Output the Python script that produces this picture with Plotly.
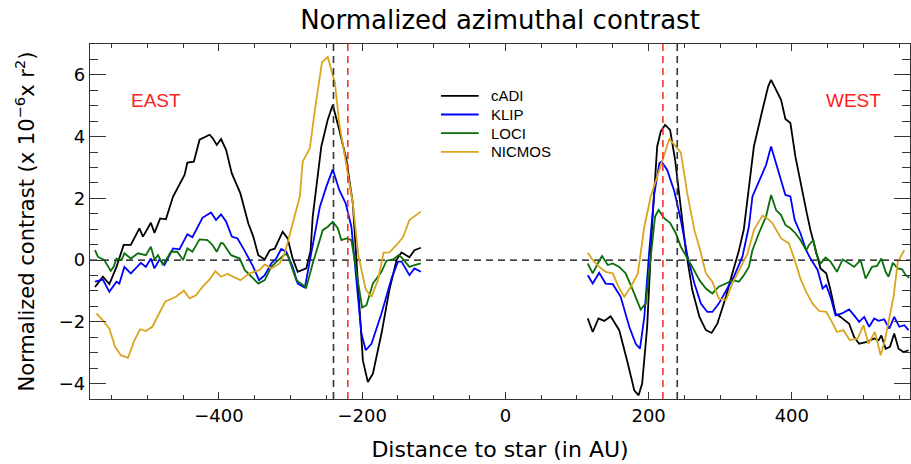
import plotly.graph_objects as go

# ---------------- data ----------------
cadi_x = [-573, -562, -553, -543, -533, -523, -511, -506, -495, -490, -482, -474, -464, -455, -448, -444,
          -435, -427, -420, -413, -409, -403, -397, -390, -382, -370, -359, -352, -345, -336, -329, -322,
          -311, -304, -297, -290, -278, -272, -269, -257, -248, -241, -232, -222, -213, -206, -199, -192,
          -185, -173, -162, -152, -145, -134, -127, -118,
          None,
          115, 122, 130, 138, 147, 159, 171, 180, 186, 191, 198, 205, 212, 217, 223, 230, 237, 245, 252,
          261, 271, 280, 288, 296, 308, 317, 326, 333, 338, 347, 359, 367, 371, 378, 385, 391, 398, 405,
          412, 420, 426, 433, 440, 448, 454, 461, 468, 480, 487, 494, 505, 515, 521, 525, 531, 537, 543,
          549, 556, 563]
cadi_y = [-0.87, -0.54, -0.78, -0.22, 0.49, 0.49, 1.03, 0.76, 1.21, 0.88, 1.35, 1.32, 2.06, 2.43, 2.76, 3.16,
          3.19, 3.90, 3.98, 4.06, 3.96, 3.73, 3.92, 3.57, 2.81, 2.16, 1.19, 0.76, 0.16, 0.02, 0.32, 0.37,
          0.92, 0.70, 0.05, -0.38, -0.27, 0.30, 1.41, 3.68, 4.55, 5.03, 4.22, 3.25, 1.84, -0.76, -3.25, -3.95,
          -3.68, -2.38, -0.97, 0.00, 0.25, 0.09, 0.32, 0.40,
          None,
          -1.89, -2.33, -1.89, -1.97, -1.82, -2.27, -3.35, -4.22, -4.38, -4.00, -2.16, 1.19, 3.68, 4.17, 4.38,
          4.22, 3.25, 1.62, 0.32, -0.97, -1.84, -2.27, -2.36, -2.06, -1.19, -0.43, 0.30, 1.00, 1.90, 3.68,
          4.87, 5.63, 5.84, 5.52, 5.19, 4.57, 4.44, 3.35, 2.49, 1.62, 0.97, 0.38, -0.27, -0.43, -0.97, -1.73,
          -1.84, -2.06, -2.49, -2.71, -2.65, -2.54, -2.60, -2.44, -2.87, -2.81, -2.38, -2.87, -2.98, -2.92]

klip_x = [-573, -562, -553, -543, -539, -532, -523, -509, -502, -495, -490, -483, -476, -464, -455, -444,
          -437, -423, -411, -404, -397, -390, -382, -374, -364, -352, -344, -336, -327, -320, -313, -306,
          -297, -290, -280, -271, -259, -250, -241, -232, -223, -215, -208, -201, -195, -187, -173, -159,
          -150, -145, -134, -127, -118,
          None,
          115, 122, 131, 140, 150, 161, 173, 182, 188, 194, 201, 208, 215, 218, 226, 236, 245, 254, 264,
          273, 282, 289, 298, 310, 319, 331, 340, 345, 357, 364, 371, 378, 385, 391, 398, 404, 412, 420,
          426, 436, 443, 448, 454, 461, 470, 480, 487, 494, 501, 508, 515, 521, 529, 536, 543, 550, 557, 563]
klip_y = [-0.70, -0.63, -1.03, -0.70, -0.76, -0.22, -0.43, -0.09, -0.22, 0.05, -0.27, 0.02, -0.16, 0.38,
          0.35, 0.84, 0.74, 1.37, 1.54, 1.30, 1.48, 1.25, 0.76, 0.70, 0.30, -0.22, -0.65, -0.49, -0.11, 0.05,
          0.36, 0.27, -0.22, -0.76, -0.89, 0.22, 1.73, 2.38, 2.94, 2.27, 1.84, 1.08, -0.54, -2.38, -2.92,
          -2.71, -1.73, -0.60, -0.05, -0.05, -0.49, -0.27, -0.38,
          None,
          -0.49, -0.76, -0.41, -0.76, -0.78, -1.19, -2.16, -2.71, -2.87, -1.84, 0.32, 2.16, 3.14, 3.19, 2.92,
          2.22, 1.30, 0.16, -0.76, -1.41, -1.68, -1.68, -1.41, -0.92, -0.54, 0.11, 1.08, 2.06, 2.71, 3.08,
          3.68, 3.14, 2.60, 2.11, 2.06, 1.30, 0.87, 0.32, 0.05, -0.32, -0.92, -0.81, -1.19, -1.79, -1.73,
          -1.60, -1.79, -2.00, -1.84, -2.16, -1.89, -1.97, -1.92, -2.22, -1.84, -2.16, -2.11, -2.27]

loci_x = [-573, -569, -560, -551, -547, -543, -536, -532, -523, -513, -502, -495, -490, -485, -478, -467,
          -458, -450, -444, -437, -427, -416, -409, -403, -397, -394, -383, -371, -364, -355, -345, -336,
          -327, -317, -308, -304, -292, -278, -269, -255, -248, -241, -234, -229, -222, -215, -208, -200,
          -194, -185, -173, -166, -157, -149, -145, -134, -127, -118,
          None,
          115, 122, 129, 135, 143, 150, 159, 168, 178, 189, 196, 203, 209, 214, 222, 230, 238, 245, 252,
          261, 271, 280, 289, 298, 308, 317, 326, 333, 340, 345, 354, 364, 371, 378, 385, 391, 398, 405,
          412, 420, 424, 430, 434, 440, 447, 454, 463, 471, 480, 487, 496, 503, 512, 519, 525, 531, 535,
          541, 548, 554, 559, 564]
loci_y = [0.32, 0.11, 0.00, -0.35, -0.22, 0.05, 0.00, 0.22, 0.05, 0.22, 0.16, 0.43, 0.02, 0.16, -0.16, 0.27,
          0.27, 0.00, 0.38, 0.27, 0.67, 0.65, 0.49, 0.27, 0.56, 0.54, 0.16, 0.05, -0.32, -0.54, -0.76, -0.65,
          -0.22, 0.00, 0.19, 0.16, -0.65, -0.89, -0.11, 0.97, 1.08, 1.24, 1.03, 0.65, 0.70, 0.65, -0.32, -1.54,
          -1.46, -0.76, -0.38, -0.02, 0.02, 0.16, 0.09, -0.22, -0.16, -0.11,
          None,
          -0.11, -0.43, -0.11, 0.13, -0.16, -0.11, -0.22, -0.43, -0.97, -1.60, -1.41, 0.11, 1.41, 1.62, 1.35,
          1.21, 0.87, 0.43, 0.16, -0.22, -0.65, -0.92, -1.08, -0.86, -0.76, -0.65, -0.70, -0.49, -0.22, 0.32,
          0.87, 1.41, 2.11, 1.62, 1.46, 1.14, 1.03, 0.87, 0.65, 0.32, 0.49, 0.65, 0.22, -0.11, 0.08, -0.05,
          -0.38, 0.02, -0.11, -0.22, 0.00, -0.60, -0.22, -0.19, 0.05, -0.38, -0.54, -0.09, -0.27, -0.30,
          -0.49, -0.57]

nicmos_x = [-571, -562, -553, -545, -537, -527, -518, -510, -502, -493, -475, -460, -449, -441, -432, -423,
            -412, -405, -397, -388, -370, -357, -343, -336, -327, -315, -308, -301, -294, -287, -283, -273,
            -266, -256, -248, -238, -232, -223, -213, -205, -195, -187, -178, -170, -162, -152, -143, -134,
            -118,
            None,
            115, 122, 131, 140, 150, 158, 166, 175, 185, 194, 203, 215, 222, 229, 236, 245, 254, 264, 272,
            280, 289, 298, 308, 317, 326, 338, 347, 359, 366, 373, 385, 396, 404, 412, 420, 429, 438, 448,
            456, 463, 472, 481, 492, 500, 507, 516, 524, 530, 536, 542, 548, 557]
nicmos_y = [-1.73, -1.95, -2.22, -2.81, -3.08, -3.17, -2.60, -2.24, -2.30, -2.16, -1.35, -1.19, -0.99, -1.24,
            -1.14, -0.87, -0.60, -0.36, -0.54, -0.45, -0.65, -0.43, -0.32, -0.14, -0.27, -0.11, 0.22, 0.86,
            1.51, 2.06, 3.19, 3.62, 4.87, 6.41, 6.58, 5.74, 4.44, 3.25, 1.84, 0.11, -0.95, -1.19, -0.65, 0.24,
            0.25, 0.49, 0.74, 1.30, 1.57,
            None,
            0.24, 0.00, -0.22, -0.38, -0.43, -0.87, -1.19, -0.87, -0.43, 1.08, 2.06, 2.92, 3.46, 3.92, 3.74,
            3.48, 2.16, 0.97, 0.32, -0.43, -0.70, -1.24, -1.30, -0.76, -0.35, 0.20, 0.97, 1.44, 1.35, 1.19,
            0.70, 0.54, 0.00, -0.60, -1.03, -1.41, -1.65, -1.68, -2.00, -2.33, -2.27, -2.60, -2.54, -2.11,
            -2.71, -2.33, -3.08, -2.60, -1.89, -1.19, -0.05, 0.32]

series_names = ["cADI", "KLIP", "LOCI", "NICMOS"]
series_colors = ["#000000", "#0000ff", "#0a6e0a", "#daa520"]

ring_black = [-240, 240]   # black dashed verticals
ring_red = [-220, 220]     # red dashed verticals

x_ticks = [-400, -200, 0, 200, 400]
y_ticks = [-4, -2, 0, 2, 4, 6]

# ---------------- figure ----------------
fig = go.Figure()
for name, xs, ys, col in zip(series_names,
                             [cadi_x, klip_x, loci_x, nicmos_x],
                             [cadi_y, klip_y, loci_y, nicmos_y],
                             series_colors):
    fig.add_trace(go.Scatter(x=xs, y=ys, mode="lines", name=name, showlegend=False,
                             line=dict(color=col, width=1.8), connectgaps=False))

# zero line
fig.add_shape(type="line", xref="x domain", yref="y", x0=0, x1=1, y0=0, y1=0,
              line=dict(color="#000000", width=1.2, dash="7px,5px"), layer="below")
for xv in ring_black:
    fig.add_shape(type="line", xref="x", yref="y domain", x0=xv, x1=xv, y0=0, y1=1,
                  line=dict(color="#333333", width=1.6, dash="7px,5px"))
for xv in ring_red:
    fig.add_shape(type="line", xref="x", yref="y domain", x0=xv, x1=xv, y0=0, y1=1,
                  line=dict(color="#ff3030", width=1.6, dash="7px,5px"))

# legend (drawn manually to match the compact spacing of the reference)
leg_x0, leg_x1, leg_text_x = 0.428, 0.474, 0.487
leg_top, leg_step = 0.854, 0.0526
for i, (name, col) in enumerate(zip(series_names, series_colors)):
    yy = leg_top - i * leg_step
    fig.add_shape(type="line", xref="paper", yref="paper", x0=leg_x0, x1=leg_x1, y0=yy, y1=yy,
                  line=dict(color=col, width=1.8))
    fig.add_annotation(text=name, xref="paper", yref="paper", x=leg_text_x, y=yy,
                       xanchor="left", yanchor="middle", showarrow=False,
                       font=dict(family="Liberation Sans", size=15, color="#000000"))

fig.add_annotation(text="EAST", xref="paper", yref="paper", x=0.081, y=0.842,
                   xanchor="center", yanchor="middle",
                   showarrow=False, font=dict(family="Liberation Sans", size=19, color="#ff2020"))
fig.add_annotation(text="WEST", xref="paper", yref="paper", x=0.931, y=0.842,
                   xanchor="center", yanchor="middle",
                   showarrow=False, font=dict(family="Liberation Sans", size=19, color="#ff2020"))

axis_common = dict(showline=True, linecolor="#333333", linewidth=1.2, mirror="allticks",
                   ticks="inside", tickcolor="#333333", showgrid=False, zeroline=False, automargin=False,
                   tickfont=dict(family="DejaVu Sans", size=18, color="#000000"))

fig.update_xaxes(range=[-580, 565], tickvals=x_ticks, ticklen=7, tickwidth=1.2,
                 minor=dict(dtick=50, ticklen=3.5, ticks="inside", tickcolor="#333333", showgrid=False),
                 title=dict(text="Distance to star (in AU)",
                            font=dict(family="DejaVu Sans", size=22, color="#000000"), standoff=16),
                 **axis_common)
fig.update_yaxes(range=[-4.5, 7], tickvals=y_ticks, ticklen=16, tickwidth=1.2,
                 minor=dict(dtick=0.5, ticklen=8, ticks="inside", tickcolor="#333333", showgrid=False),
                 title=dict(text="Normalized contrast (x 10<sup>−6</sup>x r<sup>2</sup>)",
                            font=dict(family="DejaVu Sans", size=21, color="#000000"), standoff=18),
                 **axis_common)

fig.update_layout(
    width=911, height=464,
    margin=dict(l=90, r=1, t=44, b=65),
    paper_bgcolor="white", plot_bgcolor="white",
    title=dict(text="Normalized azimuthal contrast", x=0.5, xref="paper", xanchor="center",
               y=0.958, yref="container", yanchor="middle",
               font=dict(family="DejaVu Sans", size=26, color="#000000")),
    showlegend=False,
)

fig.write_html("out.html", post_script="document.body.style.margin='0';",
               config={"displayModeBar": False})
